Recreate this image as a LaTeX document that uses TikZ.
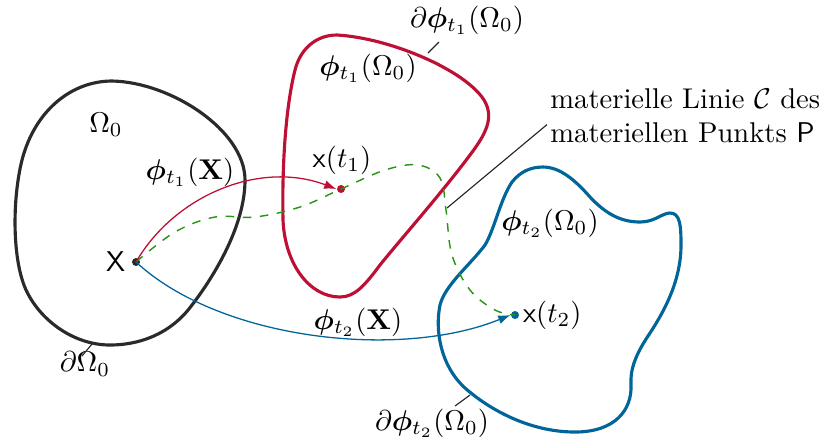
\documentclass[tikz,border=0pt]{standalone}
\usepackage{amsmath,amssymb,bm}
\usepackage{xcolor}
\usetikzlibrary{arrows.meta,positioning}
\definecolor{rot}{RGB}{190,16,52}
\definecolor{blau}{RGB}{0,101,153}
\definecolor{gruen}{RGB}{40,150,20}
\definecolor{dunkel}{RGB}{42,42,42}

\begin{document}
\begin{tikzpicture}[
  x=0.35pt, y=-0.35pt,
  rand/.style  ={line width=1.1pt, line join=round},
  map/.style   ={-{Latex[length=1.5mm,width=1.1mm]}, line width=0.45pt},
  bahn/.style  ={gruen, dashed, line width=0.5pt},
  pkt/.style   ={circle, fill, inner sep=0pt, minimum size=2.8pt},
  lbl/.style   ={inner sep=1pt},
  leader/.style={line width=0.4pt, black!85}
]
\useasboundingbox (0,0) rectangle (827,441);

% Referenzkonfiguration
\draw[rand, dunkel] (112,81) .. controls (170,82) and (245,130) .. (245,180)
  .. controls (245,225) and (215,275) .. (192,305)
  .. controls (170,335) and (138,345) .. (110,345)
  .. controls (75,345) and (42,322) .. (27,292)
  .. controls (12,262) and (12,200) .. (22,160)
  .. controls (35,110) and (72,81) .. cycle;
% Momentankonfiguration t_1
\draw[rand, rot] (337,35) .. controls (390,38) and (465,70) .. (484,100)
  .. controls (495,118) and (485,135) .. (470,155)
  .. controls (440,195) and (400,240) .. (380,265)
  .. controls (365,285) and (355,297) .. (340,297)
  .. controls (310,297) and (285,265) .. (283,220)
  .. controls (282,170) and (285,110) .. (295,70)
  .. controls (300,50) and (315,35) .. cycle;
% Momentankonfiguration t_2
\draw[rand, blau] (543,167) .. controls (560,167) and (575,180) .. (590,197)
  .. controls (605,213) and (620,222) .. (640,222)
  .. controls (655,222) and (662,213) .. (670,213)
  .. controls (680,213) and (681,225) .. (681,245)
  .. controls (681,280) and (665,310) .. (650,333)
  .. controls (635,355) and (630,370) .. (631,385)
  .. controls (632,410) and (615,432) .. (575,432)
  .. controls (530,432) and (490,410) .. (465,388)
  .. controls (440,365) and (435,330) .. (440,305)
  .. controls (445,285) and (470,265) .. (485,245)
  .. controls (495,228) and (500,200) .. (512,182)
  .. controls (520,172) and (530,167) .. cycle;

% Punkte
\node[pkt, dunkel] (X)  at (136,262) {};
\node[pkt, rot]    (x1) at (341,189) {};
\node[pkt, blau]   (x2) at (515,315) {};

% materielle Linie
\draw[bahn] plot[smooth, tension=0.6] coordinates
  {(136,262) (175,232) (215,217) (255,217) (300,207) (341,189) (385,170) (418,165) (440,178) (446,210) (452,255) (470,290) (495,310) (515,315)};

% Abbildungen
\draw[map, rot]  (X.center) .. controls (175,195) and (260,160) .. (x1.west);
\draw[map, blau] (X.center) .. controls (220,340) and (400,360) .. (x2.west);

% Beschriftungen
\node[lbl] (O0)   at (106,125) {$\Omega_0$};
\node[lbl] (dO0)  at (85,364)  {$\partial\Omega_0$};
\node[lbl, left=1pt of X]  (Xl)  {$\mathsf{X}$};
\node[lbl] (phX1) at (190,172) {$\bm{\phi}_{t_1}(\mathbf{X})$};
\node[lbl] (phX2) at (358,322) {$\bm{\phi}_{t_2}(\mathbf{X})$};
\node[lbl] (x1l)  at (342,160) {$\mathsf{x}(t_1)$};
\node[lbl, right=0pt of x2] (x2l) {$\mathsf{x}(t_2)$};
\node[lbl] (O1)   at (368,68)  {$\bm{\phi}_{t_1}(\Omega_0)$};
\node[lbl] (dO1)  at (467,20)  {$\partial\bm{\phi}_{t_1}(\Omega_0)$};
\node[lbl] (O2)   at (550,223) {$\bm{\phi}_{t_2}(\Omega_0)$};
\node[lbl] (dO2)  at (432,423) {$\partial\bm{\phi}_{t_2}(\Omega_0)$};
\node[lbl, anchor=west, align=left] (C) at (547,116)
  {materielle Linie $\mathcal{C}$ des\\materiellen Punkts $\mathsf{P}$};

% Hinweislinien
\coordinate (r0) at (92,344);
\coordinate (r1) at (428,53);
\coordinate (r2) at (470,395);
\coordinate (rc) at (447,208);
\draw[leader] (r0) -- (82,356);
\draw[leader] (r1) -- (439,42);
\draw[leader] (r2) -- (455,406);
\draw[leader] (rc) -- ([yshift=-3pt]C.west);

\end{tikzpicture}
\end{document}
